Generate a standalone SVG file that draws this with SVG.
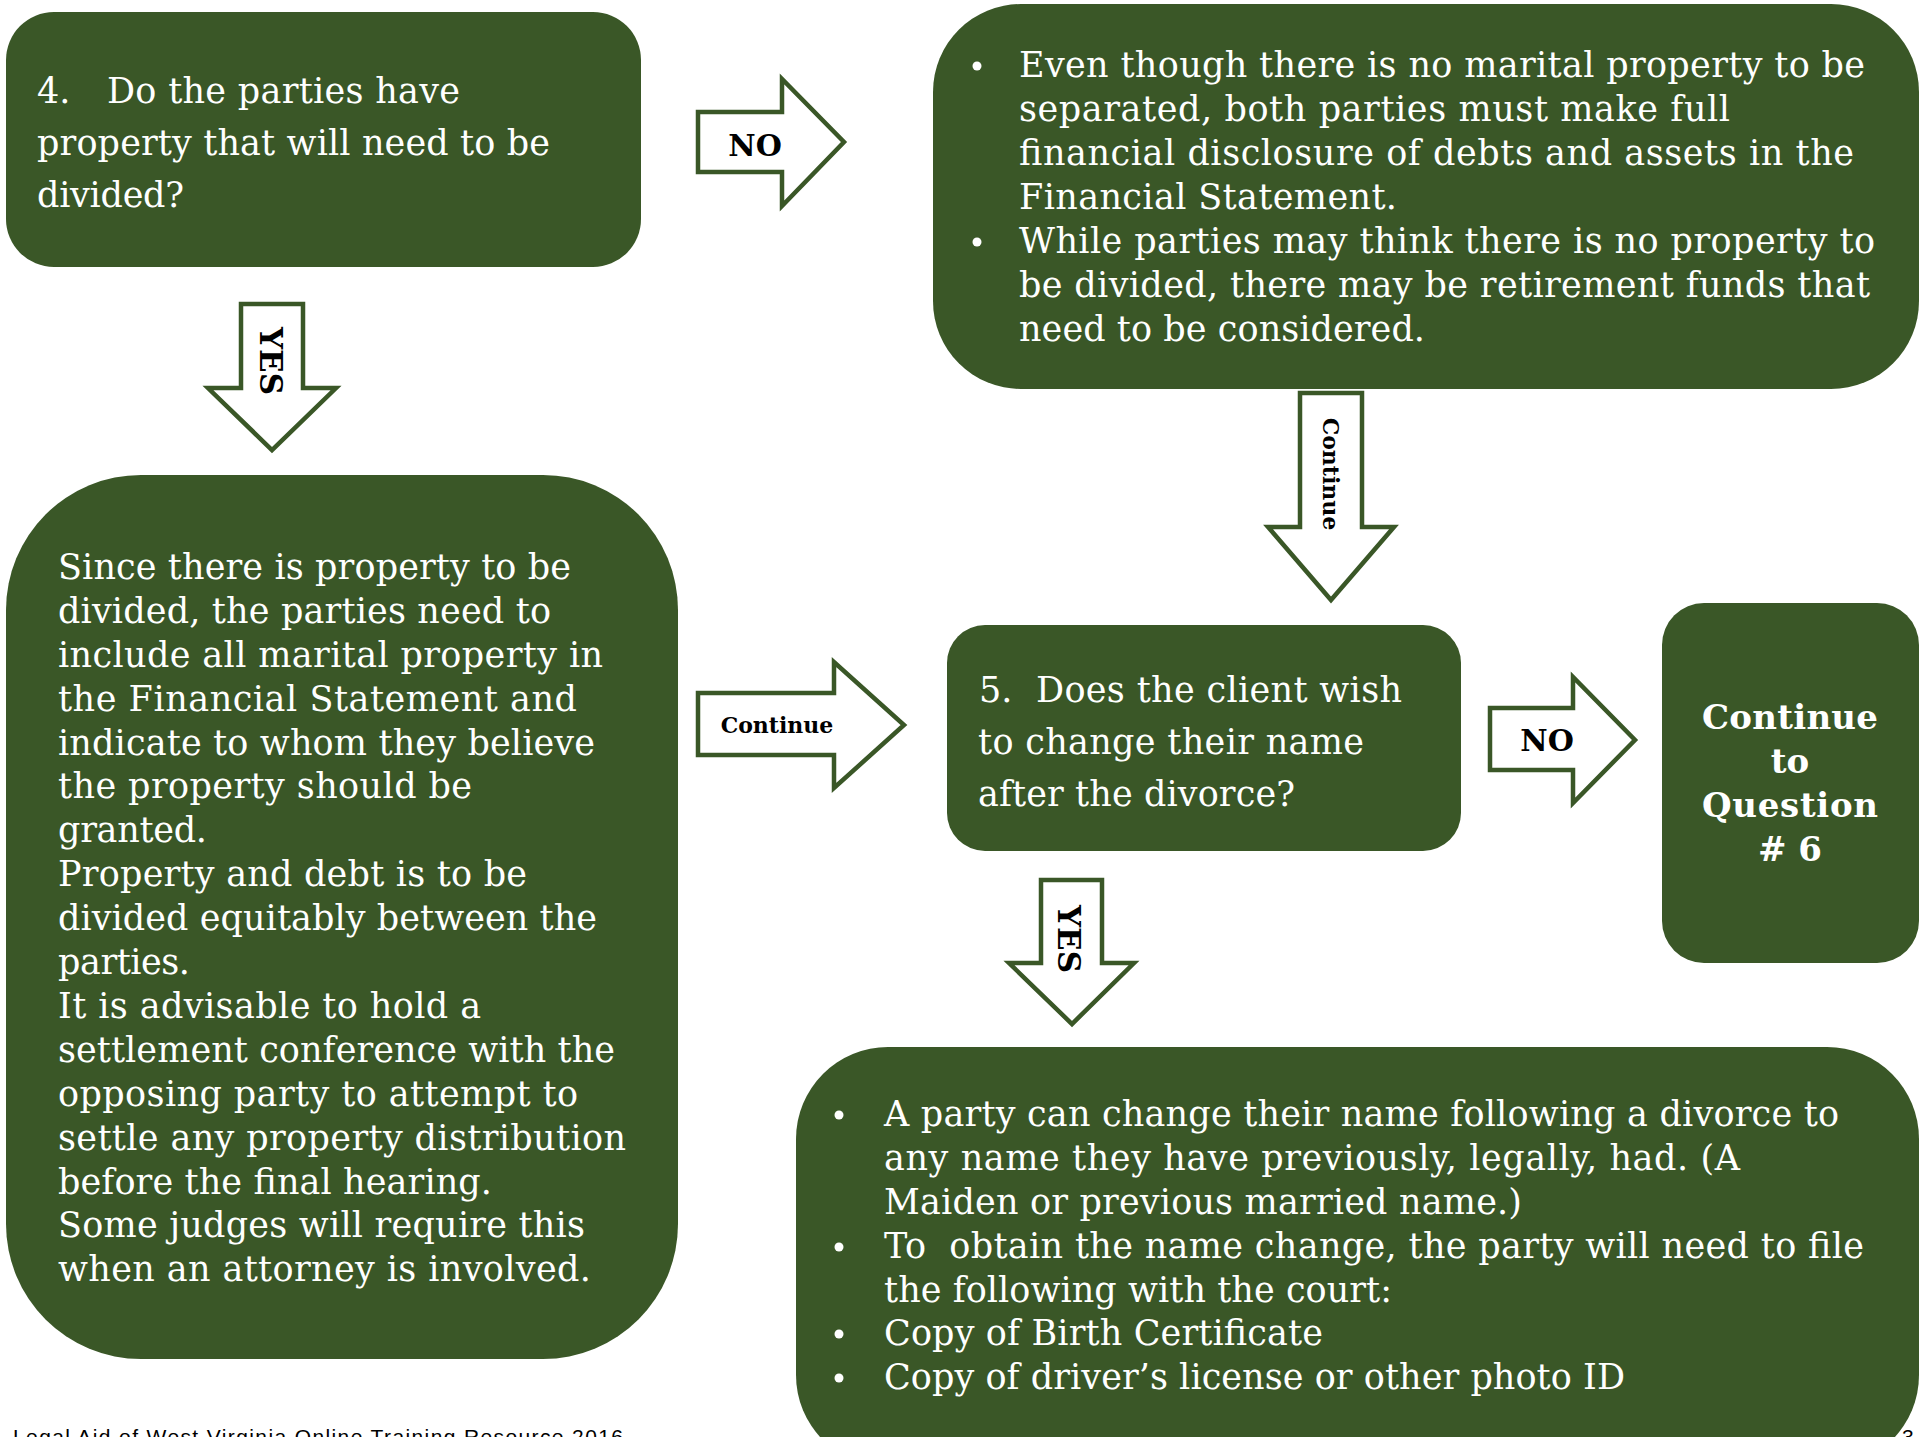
<svg xmlns="http://www.w3.org/2000/svg" width="1923" height="1437" viewBox="0 0 1923 1437">
<style>
.box{fill:#3a5727;}
.t{font-family:"DejaVu Serif",serif;font-size:35px;fill:#ffffff;}
.tb{font-family:"DejaVu Serif",serif;font-size:34px;font-weight:bold;fill:#ffffff;text-anchor:middle;}
.arrow{fill:#ffffff;stroke:#3a5727;stroke-width:4.5;stroke-linejoin:miter;}
.al{font-family:"DejaVu Serif",serif;font-weight:bold;fill:#000000;}
.foot{font-family:"Liberation Sans",Arial,sans-serif;font-size:21px;fill:#000000;}
.bul{fill:#ffffff;}
</style>
<rect width="1923" height="1437" fill="#ffffff"/>

<g id="q4">
<rect class="box" x="6" y="12" width="635" height="255" rx="48" ry="48"/>
<text class="t" y="103"><tspan x="37">4.</tspan> <tspan x="107" textLength="353">Do the parties have</tspan></text>
<text class="t" x="37" y="155" textLength="513">property that will need to be</text>
<text class="t" x="37" y="207" textLength="147">divided?</text>
</g>

<g id="no-property">
<rect class="box" x="933" y="4" width="986" height="385" rx="88" ry="88"/>
<circle class="bul" cx="977" cy="66" r="4.5"/>
<circle class="bul" cx="977" cy="242" r="4.5"/>
<text class="t" x="1019" y="77" textLength="846">Even though there is no marital property to be</text>
<text class="t" x="1019" y="121" textLength="711">separated, both parties must make full</text>
<text class="t" x="1019" y="165" textLength="835">financial disclosure of debts and assets in the</text>
<text class="t" x="1019" y="209" textLength="378">Financial Statement.</text>
<text class="t" x="1019" y="253" textLength="856">While parties may think there is no property to</text>
<text class="t" x="1019" y="297" textLength="851">be divided, there may be retirement funds that</text>
<text class="t" x="1019" y="341" textLength="406">need to be considered.</text>
</g>

<g id="property">
<rect class="box" x="6" y="475" width="672" height="884" rx="135" ry="135"/>
<text class="t" x="58" y="579" textLength="513">Since there is property to be</text>
<text class="t" x="58" y="623" textLength="493">divided, the parties need to</text>
<text class="t" x="58" y="667" textLength="545">include all marital property in</text>
<text class="t" x="58" y="711" textLength="519">the Financial Statement and</text>
<text class="t" x="58" y="755" textLength="537">indicate to whom they believe</text>
<text class="t" x="58" y="798" textLength="414">the property should be</text>
<text class="t" x="58" y="842" textLength="149">granted.</text>
<text class="t" x="58" y="886" textLength="469">Property and debt is to be</text>
<text class="t" x="58" y="930" textLength="539">divided equitably between the</text>
<text class="t" x="58" y="974" textLength="132">parties.</text>
<text class="t" x="58" y="1018" textLength="423">It is advisable to hold a</text>
<text class="t" x="58" y="1062" textLength="557">settlement conference with the</text>
<text class="t" x="58" y="1106" textLength="520">opposing party to attempt to</text>
<text class="t" x="58" y="1150" textLength="568">settle any property distribution</text>
<text class="t" x="58" y="1194" textLength="434">before the final hearing.</text>
<text class="t" x="58" y="1237" textLength="527">Some judges will require this</text>
<text class="t" x="58" y="1281" textLength="533">when an attorney is involved.</text>
</g>

<g id="q5">
<rect class="box" x="947" y="625" width="514" height="226" rx="38" ry="38"/>
<text class="t" y="702"><tspan x="979">5.</tspan> <tspan x="1036" textLength="366">Does the client wish</tspan></text>
<text class="t" x="978" y="754" textLength="386">to change their name</text>
<text class="t" x="978" y="806" textLength="317">after the divorce?</text>
</g>

<g id="q6">
<rect class="box" x="1662" y="603" width="257" height="360" rx="42" ry="42"/>
<text class="tb" x="1790" y="729" textLength="176">Continue</text>
<text class="tb" x="1790" y="773">to</text>
<text class="tb" x="1790" y="817" textLength="176">Question</text>
<text class="tb" x="1790" y="861"># 6</text>
</g>

<g id="name-change">
<rect class="box" x="796" y="1047" width="1123" height="420" rx="92" ry="92"/>
<circle class="bul" cx="839" cy="1115" r="4.5"/>
<circle class="bul" cx="839" cy="1247" r="4.5"/>
<circle class="bul" cx="839" cy="1334" r="4.5"/>
<circle class="bul" cx="839" cy="1378" r="4.5"/>
<text class="t" x="884" y="1126" textLength="955">A party can change their name following a divorce to</text>
<text class="t" x="884" y="1170" textLength="856">any name they have previously, legally, had. (A</text>
<text class="t" x="884" y="1214" textLength="638">Maiden or previous married name.)</text>
<text class="t" x="884" y="1258" textLength="980" xml:space="preserve">To  obtain the name change, the party will need to file</text>
<text class="t" x="884" y="1302" textLength="508">the following with the court:</text>
<text class="t" x="884" y="1345" textLength="439">Copy of Birth Certificate</text>
<text class="t" x="884" y="1389" textLength="741">Copy of driver’s license or other photo ID</text>
</g>

<g id="connectors">
<g id="arrow-no-1">
<polygon class="arrow" points="698,112 782,112 782,79 844,142 782,206 782,172 698,172"/>
<text class="al" x="755" y="156" font-size="30" text-anchor="middle">NO</text>
</g>
<g id="arrow-yes-1">
<polygon class="arrow" points="241,304 303,304 303,388 336,388 272,450 208,388 241,388"/>
<text class="al" font-size="31" text-anchor="middle" transform="translate(260,361) rotate(90)">YES</text>
</g>
<g id="arrow-continue-1">
<polygon class="arrow" points="698,693 834,693 834,662 904,725 834,788 834,755 698,755"/>
<text class="al" x="777" y="733" font-size="22" text-anchor="middle">Continue</text>
</g>
<g id="arrow-continue-2">
<polygon class="arrow" points="1300,393 1362,393 1362,527 1394,527 1331,600 1268,527 1300,527"/>
<text class="al" font-size="22" text-anchor="middle" transform="translate(1323,474) rotate(90)">Continue</text>
</g>
<g id="arrow-no-2">
<polygon class="arrow" points="1490,708 1573,708 1573,677 1635,740 1573,803 1573,770 1490,770"/>
<text class="al" x="1547" y="751" font-size="30" text-anchor="middle">NO</text>
</g>
<g id="arrow-yes-2">
<polygon class="arrow" points="1041,880 1102,880 1102,963 1134,963 1072,1024 1009,963 1041,963"/>
<text class="al" font-size="31" text-anchor="middle" transform="translate(1058,939) rotate(90)">YES</text>
</g>
</g>

<text class="foot" x="13" y="1444" textLength="610">Legal Aid of West Virginia Online Training Resource 2016</text>
<text class="foot" x="1902" y="1444">3</text>
</svg>
